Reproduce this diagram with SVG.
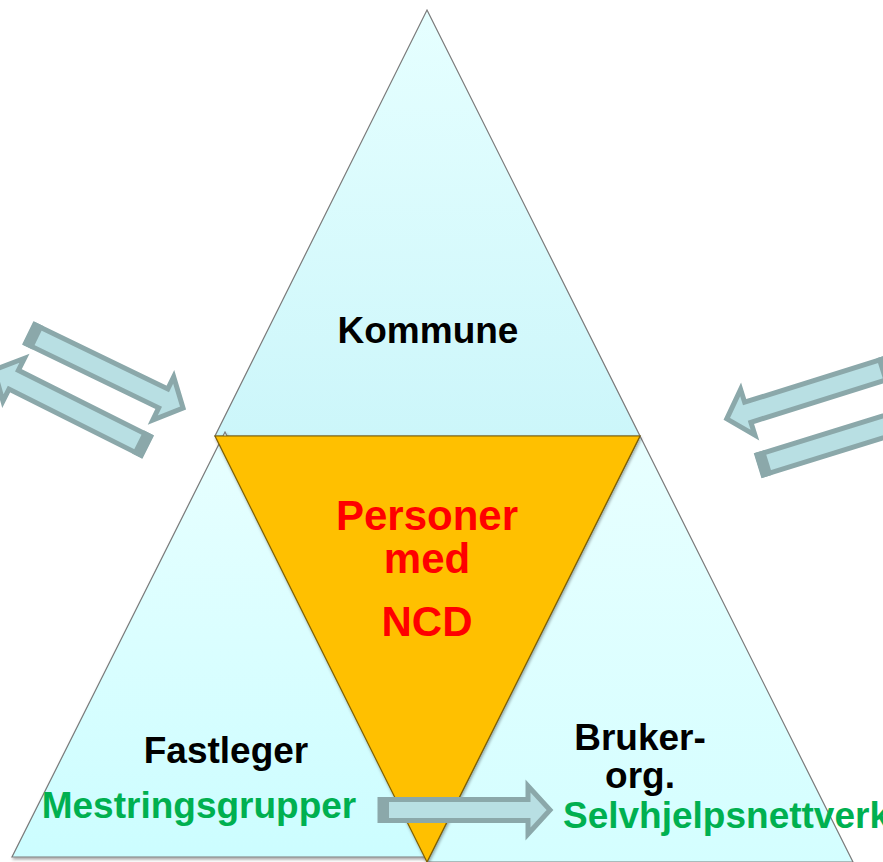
<svg xmlns="http://www.w3.org/2000/svg" width="883" height="862" viewBox="0 0 883 862">
<defs>
<linearGradient id="gTop" x1="0" y1="0" x2="0" y2="1"><stop offset="0" stop-color="#E6FFFF"/><stop offset="1" stop-color="#CCF6FA"/></linearGradient>
<linearGradient id="gLeft" x1="0" y1="0" x2="0" y2="1"><stop offset="0" stop-color="#E8FFFF"/><stop offset="1" stop-color="#CCFDFF"/></linearGradient>
<linearGradient id="gRight" x1="0" y1="0" x2="0" y2="1"><stop offset="0" stop-color="#E8FFFF"/><stop offset="1" stop-color="#D4FEFF"/></linearGradient>
<filter id="sh" x="-10%" y="-10%" width="120%" height="120%"><feDropShadow dx="1" dy="2" stdDeviation="1.5" flood-color="#000" flood-opacity="0.35"/></filter>
<g id="arrow">
<path d="M0,-10.5 H148 V-24 L170,0 L148,24 V10.5 H0 Z" fill="#B8DFE3" stroke="#8BA8AA" stroke-width="5" stroke-linejoin="miter"/>
<rect x="-2" y="-13" width="11" height="26" fill="#8BA8AA"/>
</g>
</defs>
<style>
.tri{stroke:#7a7a7a;stroke-width:1.2}
.t{font-family:"Liberation Sans",Arial,sans-serif;font-weight:bold;text-anchor:middle}
.blk{fill:#000;font-size:37px}
.red{fill:#FF0000;font-size:42px}
.grn{fill:#00B050;font-size:37px}
</style>
<g id="node-kommune">
<polygon class="tri" points="427,10 640,436 215,436" fill="url(#gTop)"/>
<text class="t blk" x="428" y="343">Kommune</text>
</g>
<g id="node-fastleger">
<polygon class="tri" points="225,432 438,857 12,857" fill="url(#gLeft)" filter="url(#sh)"/>
</g>
<g id="node-bruker">
<polygon class="tri" points="640,436 853,862 427,862" fill="url(#gRight)"/>
</g>
<g id="node-personer">
<polygon points="215,436 640,436 427,862" fill="#FFC000" stroke="#7F6000" stroke-width="1.2" filter="url(#sh)"/>
<text class="t red" x="427" y="530">Personer</text>
<text class="t red" x="427" y="573">med</text>
<text class="t red" x="427" y="636">NCD</text>
</g>
<g id="connectors">
<use href="#arrow" transform="translate(30,334) rotate(25.8)"/>
<use href="#arrow" transform="translate(146,446) rotate(206.6)"/>
<use href="#arrow" transform="translate(889,368) rotate(162.6)"/>
<use href="#arrow" transform="translate(760,465) rotate(-17.2)"/>
<use href="#arrow" transform="translate(380,810)"/>
</g>
<g id="labels">
<text class="t blk" x="226" y="763">Fastleger</text>
<text class="t grn" x="199" y="818">Mestringsgrupper</text>
<text class="t blk" x="640" y="750">Bruker-</text>
<text class="t blk" x="640" y="788">org.</text>
<text class="t grn" x="563" y="828" style="text-anchor:start">Selvhjelpsnettverk</text>
</g>
</svg>
